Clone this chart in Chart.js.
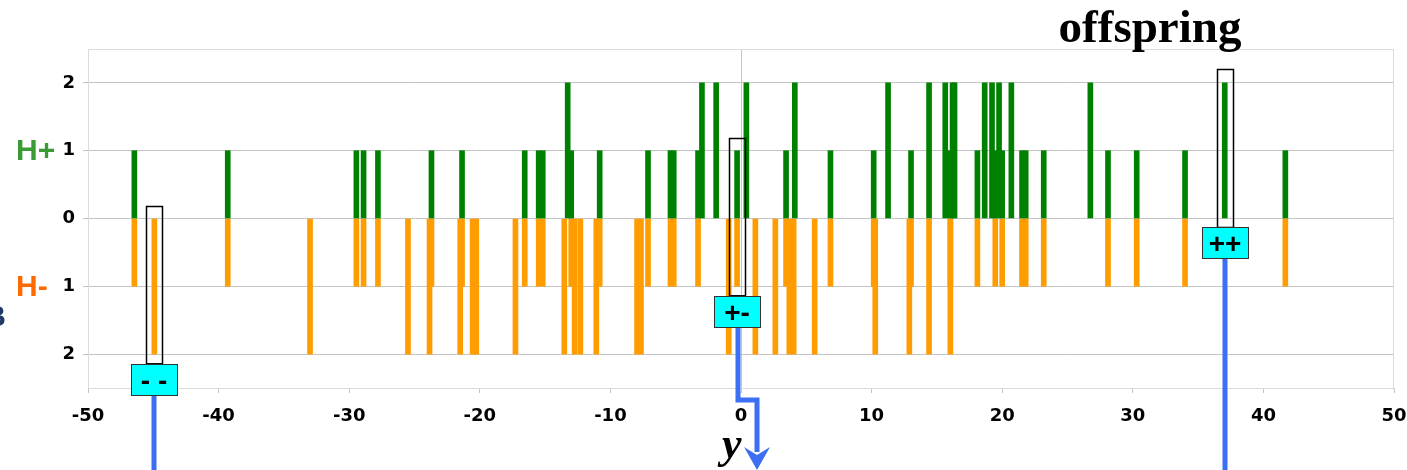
<!DOCTYPE html>
<html>
<head>
<meta charset="utf-8">
<script src="https://cdn.jsdelivr.net/npm/chart.js@4.4.1/dist/chart.umd.min.js"></script>
<style>
  html, body { margin: 0; padding: 0; background: #fff; }
</style>
</head>
<body>
<canvas id="myChart" width="1407" height="470"></canvas>
<script>
// trait value y of each individual, split by genotype
const posPlusPlus = [-13.27, -2.99, -1.9, 0.41, 4.12, 11.26, 14.4, 15.64, 16.2, 16.35,
    18.66, 19.22, 19.76, 20.7, 26.75, 37.04];
const posPlusMinus = [-46.45, -39.3, -29.45, -28.9, -27.8, -23.7, -21.36, -16.56, -15.49, -15.18,
    -13.0, -10.82, -7.12, -5.4, -5.15, -3.29, -0.3, 3.45, 6.85, 10.16, 13.02, 16.03, 18.1,
    19.47, 20.0, 21.52, 21.8, 23.18, 28.1, 30.3, 34.0, 41.68];
const posMinusMinus = [-44.92, -33.0, -25.5, -23.85, -21.5, -20.55, -20.27, -17.27, -13.53, -12.74,
    -12.3, -11.08, -7.96, -7.66, -0.94, 1.1, 2.63, 3.7, 4.03, 5.64, 10.28, 12.89, 14.4, 16.03];

const xTickValues = [-50, -40, -30, -20, -10, 0, 10, 20, 30, 40, 50];
const yTickValues = [-2, -1, 0, 1, 2];

// selected individuals (boxed), value range of the box and the genotype label
const picked = [
    { x: -44.92, top: 0.18, bottom: -2.14, label: "- -" },
    { x: -0.3, top: 1.18, bottom: -1.14, label: "+-" },
    { x: 37.04, top: 2.2, bottom: -0.13, label: "++" },
];

const hPlus = posPlusPlus.map(v => ({ x: v, y: 2 }))
    .concat(posPlusMinus.map(v => ({ x: v, y: 1 })))
    .sort((a, b) => a.x - b.x);
const hMinus = posPlusMinus.map(v => ({ x: v, y: -1 }))
    .concat(posMinusMinus.map(v => ({ x: v, y: -2 })))
    .sort((a, b) => a.x - b.x);

const BLUE = "#3d6ff5";

const overlay = {
    id: "overlay",
    afterDraw(chart) {
        const { ctx, chartArea: a, scales: { x, y } } = chart;
        ctx.save();

        // top and right frame
        ctx.strokeStyle = "#dcdcd4";
        ctx.lineWidth = 1;
        ctx.beginPath();
        ctx.moveTo(a.left, a.top + 0.5);
        ctx.lineTo(a.right - 0.5, a.top + 0.5);
        ctx.lineTo(a.right - 0.5, a.bottom);
        ctx.stroke();

        // blue lines from the boxes
        ctx.strokeStyle = BLUE;
        ctx.lineWidth = 5;
        picked.forEach((m, i) => {
            const px = Math.round(x.getPixelForValue(m.x));
            const yb = y.getPixelForValue(m.bottom) + 31;
            ctx.beginPath();
            if (i === 1) {
                ctx.moveTo(px + 1, yb);
                ctx.lineTo(px + 1, 400);
                ctx.lineTo(px + 20, 400);
                ctx.lineTo(px + 20, 452);
            } else {
                ctx.moveTo(px, yb);
                ctx.lineTo(px, 470);
            }
            ctx.stroke();
            if (i === 1) {
                const tx = px + 20;
                ctx.fillStyle = BLUE;
                ctx.beginPath();
                ctx.moveTo(tx, 470);
                ctx.lineTo(tx - 13, 447);
                ctx.lineTo(tx, 455);
                ctx.lineTo(tx + 13, 447);
                ctx.closePath();
                ctx.fill();
            }
        });

        // boxes around picked bars and cyan genotype labels
        picked.forEach(m => {
            const px = x.getPixelForValue(m.x);
            const yt = y.getPixelForValue(m.top);
            const yb = y.getPixelForValue(m.bottom);
            ctx.strokeStyle = "#000";
            ctx.lineWidth = 1.5;
            ctx.strokeRect(Math.round(px) - 7.5, Math.round(yt) + 0.5, 16, yb - yt);
            ctx.fillStyle = "#00ffff";
            ctx.fillRect(Math.round(px) - 23, Math.round(yb), 46, 31);
            ctx.strokeStyle = "#333";
            ctx.lineWidth = 1;
            ctx.strokeRect(Math.round(px) - 22.5, Math.round(yb) + 0.5, 46, 31);
            ctx.fillStyle = "#000";
            ctx.font = "bold 28px 'Liberation Sans', Arial, sans-serif";
            ctx.textAlign = "center";
            ctx.textBaseline = "middle";
            ctx.fillText(m.label, Math.round(px), Math.round(yb) + 18);
        });

        // side labels
        ctx.textAlign = "left";
        ctx.textBaseline = "middle";
        ctx.font = "bold 30px 'Liberation Sans', Arial, sans-serif";
        ctx.fillStyle = "#3a9b35";
        ctx.fillText("H+", 16, y.getPixelForValue(1) + 1);
        ctx.fillStyle = "#ff6a00";
        ctx.fillText("H-", 16, y.getPixelForValue(-1) + 1);
        ctx.fillStyle = "#1f3a68";
        ctx.textAlign = "right";
        ctx.fillText("B", 6, 318);

        // titles
        ctx.fillStyle = "#000";
        ctx.textAlign = "center";
        ctx.textBaseline = "alphabetic";
        ctx.font = "bold 47px 'Liberation Serif', 'Times New Roman', serif";
        ctx.fillText("offspring", 1150, 42);
        ctx.textAlign = "left";
        ctx.font = "italic bold 44px 'Liberation Serif', 'Times New Roman', serif";
        ctx.fillText("y", 722, 458);

        ctx.restore();
    }
};

const tickFont = { family: "'DejaVu Sans', sans-serif", weight: "bold", size: 18 };

const config = {
    type: "bar",
    data: {
        datasets: [
            {
                label: "H+",
                data: hPlus,
                backgroundColor: "#008000",
                barThickness: 5,
                grouped: false,
            },
            {
                label: "H-",
                data: hMinus,
                backgroundColor: "#ff9c00",
                barThickness: 5,
                grouped: false,
            },
        ],
    },
    options: {
        responsive: false,
        animation: false,
        layout: { padding: { top: 49, right: 13, left: 0, bottom: 0 } },
        plugins: {
            legend: { display: false },
            tooltip: { enabled: false },
        },
        scales: {
            x: {
                type: "linear",
                min: -50,
                max: 50,
                offset: false,
                afterBuildTicks: s => { s.ticks = xTickValues.map(v => ({ value: v })); },
                afterFit: s => { s.height = 82; s.paddingLeft = 0; s.paddingRight = 0; },
                ticks: { font: tickFont, color: "#000", padding: 13, maxRotation: 0, autoSkip: false },
                grid: {
                    offset: false,
                    color: c => (c.tick && c.tick.value === 0 ? "#c4c4c4" : "rgba(0,0,0,0)"),
                    tickColor: "#c4c4c4",
                    tickLength: 5,
                },
                border: { color: "#dcdcd4" },
            },
            y: {
                min: -2.5,
                max: 2.5,
                afterBuildTicks: s => { s.ticks = yTickValues.map(v => ({ value: v })); },
                afterFit: s => { s.width = 88; s.paddingTop = 0; s.paddingBottom = 0; },
                ticks: { font: tickFont, color: "#000", padding: 8, callback: v => Math.abs(v) },
                grid: { color: "#c4c4c4", tickColor: "#c4c4c4", tickLength: 5 },
                border: { color: "#dcdcd4" },
            },
        },
    },
    plugins: [overlay],
};

const ctx = document.getElementById("myChart").getContext("2d");
let myChart = new Chart(ctx, config);
</script>
</body>
</html>
